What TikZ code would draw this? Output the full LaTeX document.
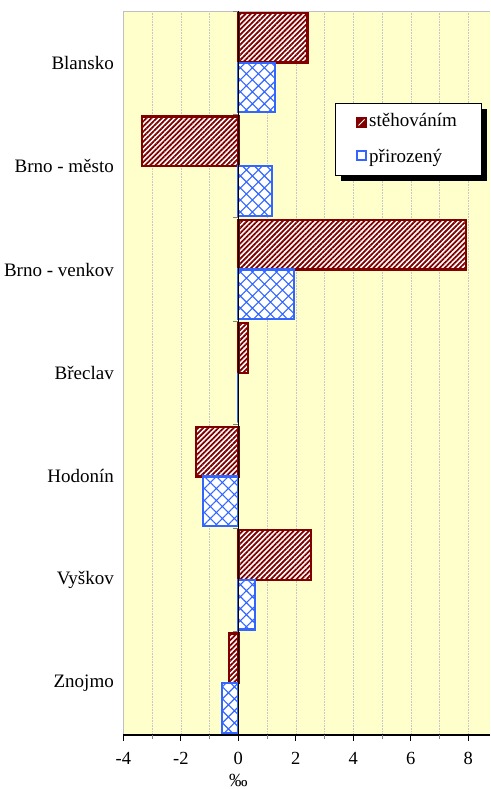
\documentclass[tikz,border=0pt]{standalone}
\usepackage{fontspec}
\setmainfont{Liberation Serif}
\usetikzlibrary{patterns.meta,positioning}

% chart colours
\definecolor{plotbg}{HTML}{FFFFCC}
\definecolor{migred}{HTML}{800000}
\definecolor{natblue}{HTML}{3366FF}

\tikzset{
  migbar/.style={fill=white,
    postaction={pattern={Lines[angle=45,distance=3.6pt,line width=1.8pt]}, pattern color=migred},
    postaction={draw=migred, line width=2.4pt}},
  natbar/.style={fill=white,
    postaction={pattern={Hatch[angle=45,distance=8.5pt,line width=1.1pt]}, pattern color=natblue},
    postaction={draw=natblue, line width=2.2pt}},
  catlabel/.style={anchor=east, inner sep=0pt, font=\fontsize{19}{21}\selectfont},
  ticklabel/.style={inner sep=0pt, font=\fontsize{18.5}{20}\selectfont},
  gridline/.style={gray!45, densely dotted, line width=0.6pt}
}

\begin{document}
\begin{tikzpicture}[x=1pt, y=-1pt]
\useasboundingbox (0,0) rectangle (490,789);
\fill[white] (0,0) rectangle (490,789);

% plot area
\fill[plotbg] (123.3,11) rectangle (490,735);
\draw[gray!50, line width=0.5pt] (123.3,735) -- (123.3,11) -- (490,11);
\foreach \v in {-3,-2,-1,1,2,3,4,5,6,7,8}
  \draw[gridline] ({238.3+28.75*\v},11) -- ({238.3+28.75*\v},735);

% bars
\foreach \i/\mig/\nat in {0/2.41/1.28, 1/-3.35/1.17, 2/7.92/1.94, 3/0.34/0,
                          4/-1.48/-1.24, 5/2.53/0.59, 6/-0.32/-0.57} {
  \pgfmathsetmacro{\top}{11+103.43*\i}
  \draw[migbar] (238.3,\top+2) rectangle ({238.3+28.75*\mig},\top+51.7);
  \draw[natbar] (238.3,\top+51.7) rectangle ({238.3+28.75*\nat},\top+101.4);
}

% axes
\draw[black, line width=1pt] (238.3,11) -- (238.3,735);
\foreach \i in {0,...,7}
  \draw[gray, line width=0.8pt] (233,{11+103.43*\i}) -- (238.3,{11+103.43*\i});
\draw[black, line width=1.2pt] (123.3,735) -- (490,735);
\foreach \v in {-3,-1,1,3,5,7}
  \draw[gray, line width=0.8pt] ({238.3+28.75*\v},735) -- ({238.3+28.75*\v},739);
\foreach \v in {-4,-2,0,2,4,6,8} {
  \draw[black, line width=0.8pt] ({238.3+28.75*\v},735) -- ({238.3+28.75*\v},741);
  \node[ticklabel] (tick\v) at ({238.3+28.75*\v},758) {\v};
}
\node[ticklabel] (unit) at (238.3,780) {‰};

% category labels
\foreach \i/\name in {0/Blansko, 1/Brno - město, 2/Brno - venkov, 3/Břeclav,
                      4/Hodonín, 5/Vyškov, 6/Znojmo}
  \node[catlabel] (cat\i) at (114,{62.7+103.43*\i}) {\name};

% legend
\fill[black] (341,109) rectangle (487,181);
\draw[fill=white, line width=0.6pt] (335,103) rectangle (481,175);
\fill[migred] (356,117) rectangle (367,128);
\draw[white, line width=1pt] (358.5,125.5) -- (364.5,119.5);
\draw[natblue, fill=white, line width=2pt] (357,151) rectangle (366,160);
\node[catlabel, anchor=base west] (legMig) at (369,127) {stěhováním};
\node[catlabel, anchor=base west] (legNat) at (369,162) {přirozený};
\end{tikzpicture}
\end{document}
